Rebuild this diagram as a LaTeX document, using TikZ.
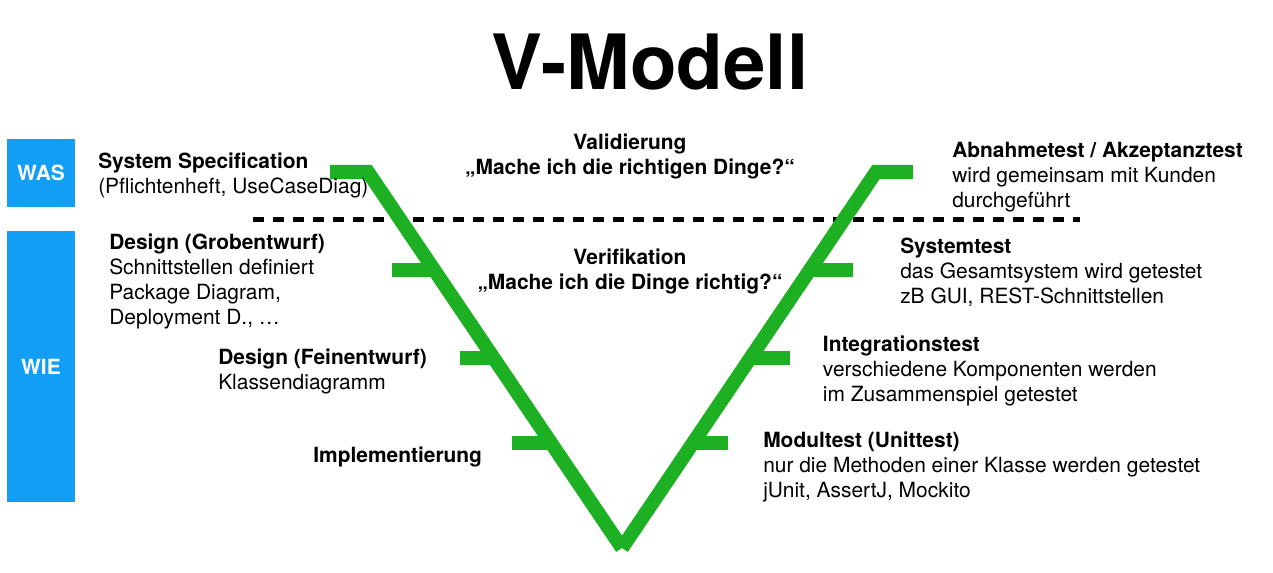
\documentclass[tikz,border=0pt]{standalone}
\usepackage{fontspec}
\setmainfont{TeX Gyre Heros}
\definecolor{vgreen}{RGB}{30,176,35}
\definecolor{wblue}{RGB}{18,158,245}
\begin{document}
\begin{tikzpicture}[x=0.75pt,y=-0.75pt,
  vline/.style={draw=vgreen, line width=10.5pt, line cap=butt, line join=miter},
  sepline/.style={draw=black, line width=3.75pt, dash pattern=on 8.25pt off 6.75pt},
  sidebox/.style={fill=wblue, draw=none, text=white, inner sep=0pt,
    minimum width=51pt, font=\fontsize{15.7}{18}\selectfont\bfseries},
  txt/.style={anchor=base west, inner sep=0pt, font=\fontsize{15.7}{18.75}\selectfont},
  ctxt/.style={anchor=base, inner sep=0pt, font=\fontsize{15.7}{18.75}\selectfont\bfseries}
]
\useasboundingbox (0,0) rectangle (1273,573);

% title
\node[anchor=base, inner sep=0pt, font=\fontsize{57.2}{60}\selectfont\bfseries] (title) at (650,90) {V-Modell};

% side boxes
\node[sidebox, minimum height=51pt] (was) at (41,173) {WAS};
\node[sidebox, minimum height=203.25pt] (wie) at (41,366.5) {WIE};

% dashed separator
\coordinate (d0) at (253,220);
\coordinate (d1) at (1080,220);
\draw[sepline] (d0) -- (d1);

% V shape
\coordinate (L0) at (330,172);
\coordinate (L1) at (368,172);
\coordinate (B) at (622,548);
\coordinate (R1) at (876,172);
\coordinate (R0) at (913,172);
\draw[vline] (L0) -- (L1) -- (B);
\draw[vline] (B) -- (R1) -- (R0);

% ticks
\coordinate (lt1) at (392,270); \coordinate (lv1) at (434.2,270);
\coordinate (lt2) at (460,358); \coordinate (lv2) at (493.6,358);
\coordinate (lt3) at (512,443); \coordinate (lv3) at (550.9,443);
\coordinate (rt1) at (853,270); \coordinate (rv1) at (809.9,270);
\coordinate (rt2) at (790,358); \coordinate (rv2) at (750.4,358);
\coordinate (rt3) at (728,443); \coordinate (rv3) at (693.1,443);
\draw[vline] (lt1) -- (lv1);
\draw[vline] (lt2) -- (lv2);
\draw[vline] (lt3) -- (lv3);
\draw[vline] (rt1) -- (rv1);
\draw[vline] (rt2) -- (rv2);
\draw[vline] (rt3) -- (rv3);

% left texts
\node[txt] (sysspec) at (98,169) {\begin{tabular}[t]{@{}l@{}}\textbf{System Specification}\\(Pflichtenheft, UseCaseDiag)\end{tabular}};
\node[txt] (grob) at (109,250) {\begin{tabular}[t]{@{}l@{}}\textbf{Design (Grobentwurf)}\\Schnittstellen definiert\\Package Diagram,\\Deployment D., …\end{tabular}};
\node[txt] (fein) at (218,364) {\begin{tabular}[t]{@{}l@{}}\textbf{Design (Feinentwurf)}\\Klassendiagramm\end{tabular}};
\node[txt] (impl) at (313,462) {\textbf{Implementierung}};

% center texts
\node[ctxt] (valid) at (630,149.5) {\begin{tabular}[t]{@{}c@{}}Validierung\\„Mache ich die richtigen Dinge?“\end{tabular}};
\node[ctxt] (verif) at (630,264.5) {\begin{tabular}[t]{@{}c@{}}Verifikation\\„Mache ich die Dinge richtig?“\end{tabular}};

% right texts
\node[txt] (abnahme) at (952,157.5) {\begin{tabular}[t]{@{}l@{}}\textbf{Abnahmetest / Akzeptanztest}\\wird gemeinsam mit Kunden\\durchgeführt\end{tabular}};
\node[txt] (system) at (900,253.5) {\begin{tabular}[t]{@{}l@{}}\textbf{Systemtest}\\das Gesamtsystem wird getestet\\zB GUI, REST-Schnittstellen\end{tabular}};
\node[txt] (integ) at (822.7,351.5) {\begin{tabular}[t]{@{}l@{}}\textbf{Integrationstest}\\verschiedene Komponenten werden\\im Zusammenspiel getestet\end{tabular}};
\node[txt] (modul) at (763,447.5) {\begin{tabular}[t]{@{}l@{}}\textbf{Modultest (Unittest)}\\nur die Methoden einer Klasse werden getestet\\jUnit, AssertJ, Mockito\end{tabular}};
\end{tikzpicture}
\end{document}
